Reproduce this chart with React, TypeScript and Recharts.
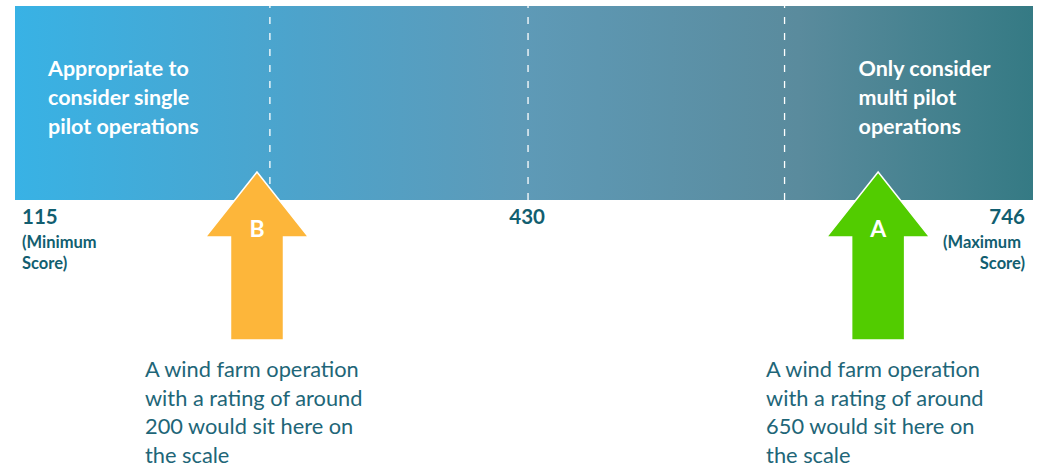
import React from 'react';
import { ScatterChart, Scatter, XAxis, YAxis, ReferenceArea, ReferenceLine } from 'recharts';

// scale values
const scaleRange = [115, 746];
const scaleTicks = [115, 430, 746];
const tickNotes = [['(Minimum', 'Score)'], [], ['(Maximum', 'Score)']];
const dividers = [273, 433, 592];

// zone captions inside the bar
const zoneRanges = [[115, 273], [592, 746]];
const zoneLines = [
    ['Appropriate to', 'consider single', 'pilot operations'],
    ['Only consider', 'multi pilot', 'operations'],
];

// arrow markers
const markerLabels = ['B', 'A'];
const markerRatings = [265, 650];
const markerColors = ['#FDB63A', '#52CC00'];
const markerNotes = [
    ['A wind farm operation', 'with a rating of around', '200 would sit here on', 'the scale'],
    ['A wind farm operation', 'with a rating of around', '650 would sit here on', 'the scale'],
];

const markers = markerLabels.map((label, i) => ({
    label,
    rating: markerRatings[i],
    base: 0,
    color: markerColors[i],
    notes: markerNotes[i],
}));

const FONT = 'Lato, "Open Sans", sans-serif';
const TEAL = '#125E70';
const NOTE = '#1E6678';

const ScaleTick = (props: any) => {
    const { x, y, payload, index } = props;
    const last = index === scaleTicks.length - 1;
    const anchor = index === 0 ? 'start' : last ? 'end' : 'middle';
    const tx = index === 0 ? x + 7 : last ? x - 8 : x + 4;
    const notes = tickNotes[index] || [];
    return (
        <g fontFamily={FONT} fill={TEAL} fontWeight={700}>
            <text x={tx} y={y + 16} textAnchor={anchor} fontSize={20.5}>{payload.value}</text>
            {notes.map((n, i) => (
                <text key={n} x={tx - (last && i === 0 ? 4 : 0)} y={y + 40 + i * 21} textAnchor={anchor} fontSize={16.5}>
                    {n}
                </text>
            ))}
        </g>
    );
};

const zoneLabel = (lines: string[], offset: number) => (props: any) => {
    const { viewBox } = props;
    return (
        <g fontFamily={FONT} fill="#fff" fontWeight={700} fontSize={21.5}>
            {lines.map((l, i) => (
                <text key={l} x={viewBox.x + offset} y={viewBox.y + 70 + i * 29}>{l}</text>
            ))}
        </g>
    );
};

const Arrow = (props: any) => {
    const { cx, cy, payload } = props;
    const tip = cy - 28;
    const neck = cy + 37;
    const end = cy + 140;
    const d = [
        `M${cx},${tip}`,
        `L${cx + 51.5},${neck}`,
        `L${cx + 26.5},${neck}`,
        `L${cx + 26.5},${end}`,
        `L${cx - 26.5},${end}`,
        `L${cx - 26.5},${neck}`,
        `L${cx - 51.5},${neck}`,
        'Z',
    ].join(' ');
    return (
        <g fontFamily={FONT}>
            <path d={d} fill={payload.color} stroke="#fff" strokeWidth={1.5} />
            <text x={cx} y={neck} textAnchor="middle" fill="#fff" fontWeight={700} fontSize={23}>
                {payload.label}
            </text>
            {payload.notes.map((n: string, i: number) => (
                <text key={n} x={cx - 112} y={cy + 177 + i * 28.5} fill={NOTE} fontSize={21.8}>
                    {n}
                </text>
            ))}
        </g>
    );
};

export default function App() {
    return (
        <div style={{ position: 'absolute', left: 0, top: 0, width: 1046, height: 466, background: '#fff', fontFamily: FONT }}>
            <ScatterChart width={1046} height={466} margin={{ top: 6, right: 13, bottom: 196, left: 15 }}>
                <defs>
                    <linearGradient id="scaleFill" x1="0" y1="0" x2="1" y2="0">
                        <stop offset="0%" stopColor="#38B2E5" />
                        <stop offset="28%" stopColor="#4DA3CB" />
                        <stop offset="50%" stopColor="#5E9AB7" />
                        <stop offset="77%" stopColor="#5A8B9D" />
                        <stop offset="100%" stopColor="#357A84" />
                    </linearGradient>
                </defs>
                <XAxis
                    type="number"
                    dataKey="rating"
                    domain={scaleRange}
                    ticks={scaleTicks}
                    axisLine={false}
                    tickLine={false}
                    height={70}
                    tick={<ScaleTick />}
                    interval={0}
                />
                <YAxis type="number" dataKey="base" domain={[0, 1]} hide />
                <ReferenceArea x1={scaleRange[0]} x2={scaleRange[1]} y1={0} y2={1} fill="url(#scaleFill)" fillOpacity={1} stroke="none" />
                {zoneRanges.map((r, i) => (
                    <ReferenceArea
                        key={`zone-${i}`}
                        x1={r[0]}
                        x2={r[1]}
                        y1={0}
                        y2={1}
                        fill="none"
                        stroke="none"
                        label={zoneLabel(zoneLines[i], i === 0 ? 33 : 74)}
                    />
                ))}
                {dividers.map((v) => (
                    <ReferenceLine key={v} x={v} stroke="#fff" strokeWidth={1.3} strokeDasharray="7 9" />
                ))}
                <Scatter data={markers} shape={<Arrow />} isAnimationActive={false} />
            </ScatterChart>
        </div>
    );
}
